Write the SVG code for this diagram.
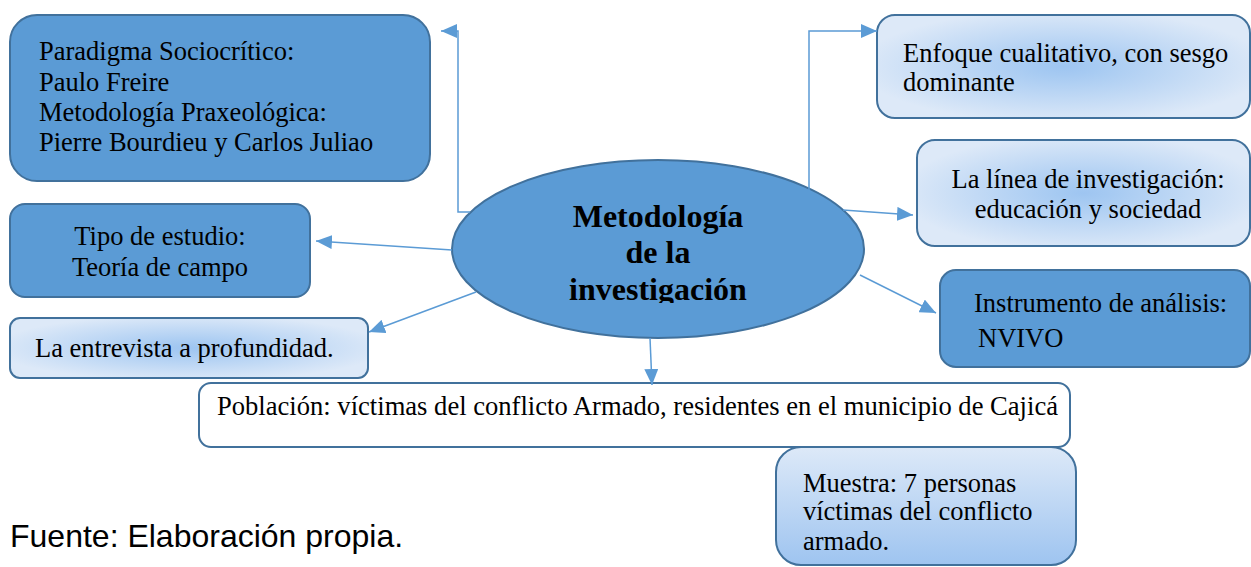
<svg xmlns="http://www.w3.org/2000/svg" width="1251" height="567" viewBox="0 0 1251 567">
<style>
.dark{fill:#5b9bd5;stroke:#41719c;stroke-width:2}
.light{fill:url(#rg);stroke:#41719c;stroke-width:2}
.white{fill:#ffffff;stroke:#41719c;stroke-width:2}
.t{font-family:"Liberation Serif","Times New Roman",serif;font-size:26.5px;fill:#000}
.c{text-anchor:middle}
.b{font-weight:bold;font-size:32px}
.conn{fill:none;stroke:#5b9bd5;stroke-width:1.5;marker-end:url(#ah)}
</style>
<defs>
<radialGradient id="rg" cx="0.5" cy="0.5" r="0.55">
<stop offset="0" stop-color="#9ec5f1"/>
<stop offset="0.15" stop-color="#a6caf2"/>
<stop offset="1" stop-color="#dde9f8"/>
</radialGradient>
<linearGradient id="vg" x1="0" y1="0" x2="0" y2="1">
<stop offset="0" stop-color="#dde9f8"/>
<stop offset="1" stop-color="#9ec4f0"/>
</linearGradient>
<marker id="ah" markerUnits="userSpaceOnUse" markerWidth="18" markerHeight="14" refX="16" refY="7" orient="auto">
<path d="M0,0 L16,7 L0,14 Z" fill="#5b9bd5"/>
</marker>
<clipPath id="ellclip"><rect x="440" y="150" width="440" height="153"/></clipPath>
</defs>
<g id="paradigma">
<rect class="dark" x="10" y="15" width="420" height="166" rx="27"/>
<text class="t" x="39" y="60">Paradigma Sociocrítico:</text>
<text class="t" x="39" y="90.5">Paulo Freire</text>
<text class="t" x="39" y="121">Metodología Praxeológica:</text>
<text class="t" x="39" y="151">Pierre Bourdieu y Carlos Juliao</text>
</g>
<g id="tipo">
<rect class="dark" x="10" y="204" width="300" height="93" rx="15"/>
<text class="t c" x="160" y="245">Tipo de estudio:</text>
<text class="t c" x="160" y="276">Teoría de campo</text>
</g>
<g id="entrevista">
<rect class="light" x="10" y="318" width="358" height="60" rx="10"/>
<text class="t" x="35" y="357">La entrevista a profundidad.</text>
</g>
<g id="enfoque">
<rect class="light" x="877" y="15" width="373" height="103" rx="18"/>
<text class="t" x="903" y="62">Enfoque cualitativo, con sesgo</text>
<text class="t" x="903" y="91">dominante</text>
</g>
<g id="linea">
<rect class="light" x="917" y="140" width="333" height="106" rx="18"/>
<text class="t c" x="1088" y="188">La línea de investigación:</text>
<text class="t c" x="1088" y="218">educación y sociedad</text>
</g>
<g id="instrumento">
<rect class="dark" x="940" y="270" width="310" height="97" rx="16"/>
<text class="t" x="974" y="312">Instrumento de análisis:</text>
<text class="t" x="978" y="347">NVIVO</text>
</g>
<g id="poblacion">
<rect class="white" x="199" y="383" width="871" height="64" rx="12"/>
<text class="t" x="217" y="415" textLength="841" lengthAdjust="spacingAndGlyphs">Población: víctimas del conflicto Armado, residentes en el municipio de Cajicá</text>
</g>
<g id="muestra">
<rect x="776" y="447" width="300" height="118" rx="25" fill="url(#vg)" stroke="#41719c" stroke-width="2"/>
<text class="t" x="803" y="492">Muestra: 7 personas</text>
<text class="t" x="803" y="520">víctimas del conflicto</text>
<text class="t" x="803" y="550">armado.</text>
</g>
<g id="centro">
<ellipse class="dark" cx="658" cy="249" rx="206" ry="89"/>
<g clip-path="url(#ellclip)">
<text class="t c b" x="658" y="227">Metodología</text>
<text class="t c b" x="658" y="263">de la</text>
<text class="t c b" x="658" y="300">investigación</text>
</g>
</g>
<g id="connectors">
<polyline class="conn" points="470,212 458,212 458,31 441,31"/>
<polyline class="conn" points="809,190 809,31 877,31"/>
<line class="conn" x1="843" y1="210" x2="913" y2="215"/>
<line class="conn" x1="452" y1="250" x2="316" y2="241"/>
<line class="conn" x1="476" y1="292" x2="369" y2="332"/>
<line class="conn" x1="650" y1="338" x2="652" y2="385"/>
<line class="conn" x1="860" y1="275" x2="936" y2="313"/>
</g>
<g id="fuente">
<text x="10" y="547" font-family="'Liberation Sans',Arial,sans-serif" font-size="32" fill="#000">Fuente: Elaboración propia.</text>
</g>
</svg>
